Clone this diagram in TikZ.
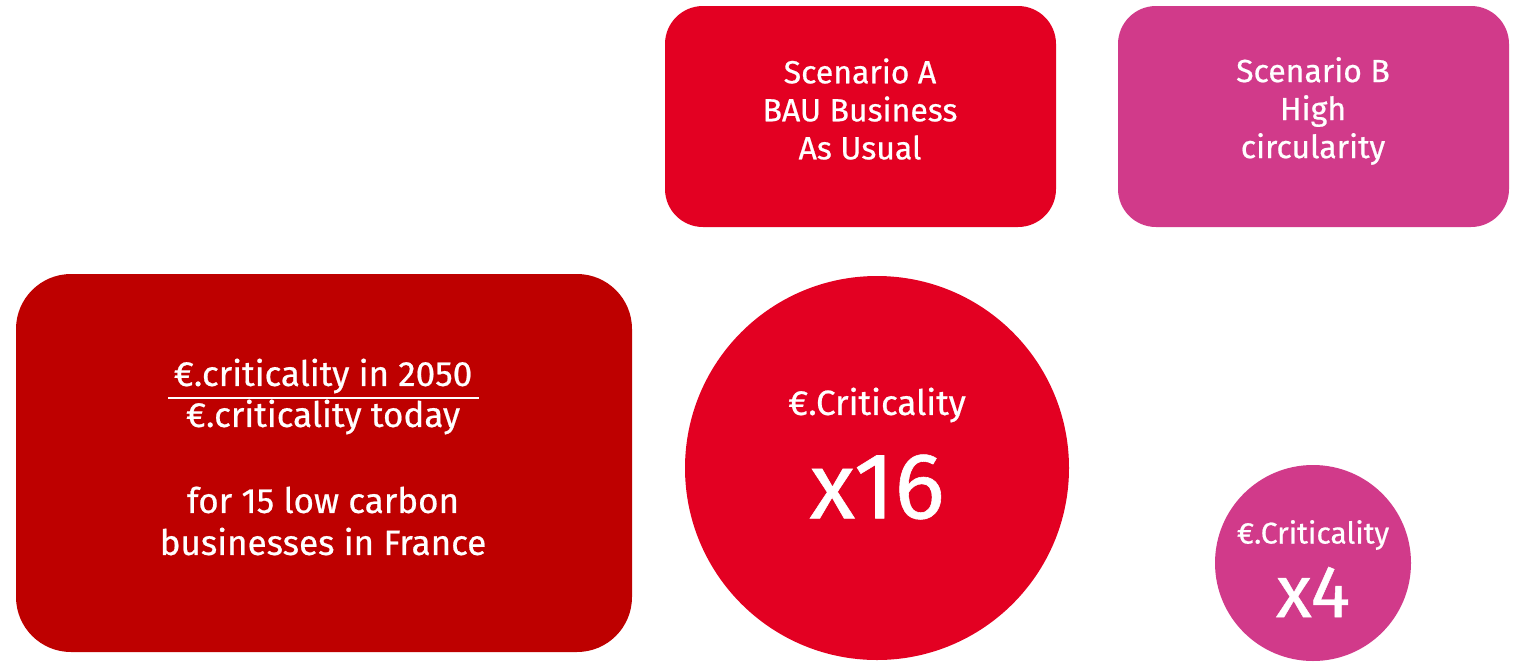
\documentclass[tikz,border=0pt]{standalone}
\usepackage{fontspec}
\setmainfont{Fira Sans}[FakeBold=0.6]
\definecolor{cA}{RGB}{227,0,34}
\definecolor{cB}{RGB}{209,58,138}
\definecolor{cL}{RGB}{190,0,0}
\begin{document}
\begin{tikzpicture}[x=1pt,y=-1pt,
  box/.style={rounded corners=38pt},
  txt/.style={text=white,align=center,inner sep=0pt,font=\fontsize{32}{38}\selectfont}]
\useasboundingbox (0,0) rectangle (1520,662);
\fill[box,cA] (665,6) rectangle (1056,227);
\fill[box,cB] (1118,6) rectangle (1509,227);
\fill[cL,rounded corners=55pt] (16,274) rectangle (632,652);
\fill[cA] (877,468) circle (192);
\fill[cB] (1313,563) circle (98);
\node[txt] (ta) at (860,109) {Scenario A\\BAU Business\\As Usual};
\node[txt] (tb) at (1313,111) {Scenario B\\High\\circularity};
\node[txt,font=\fontsize{35}{40}\selectfont] (n1) at (323,376) {€.criticality in 2050};
\node[txt,font=\fontsize{35}{40}\selectfont] (n2) at (323,417) {€.criticality today};
\draw[white,line width=2pt] (168,398) -- (479,398);
\node[txt,font=\fontsize{35}{42}\selectfont] (n3) at (323,521) {for 15 low carbon\\businesses in France};
\node[txt,font=\fontsize{35}{40}\selectfont] (c1) at (877,405) {€.Criticality};
\node[txt,font=\fontsize{94}{94}\selectfont] (c2) at (877,487) {x16};
\node[txt,font=\fontsize{30}{30}\selectfont] (s1) at (1313,535) {€.Criticality};
\node[txt,font=\fontsize{74}{74}\selectfont] (s2) at (1313,592) {x4};
\end{tikzpicture}
\end{document}
